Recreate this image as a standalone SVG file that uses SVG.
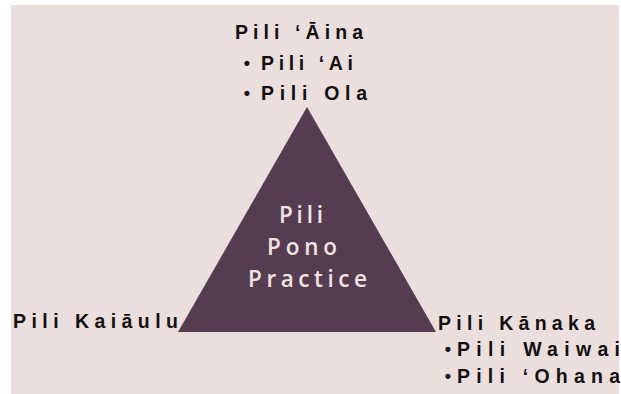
<svg xmlns="http://www.w3.org/2000/svg" width="621" height="394" viewBox="0 0 621 394">
<style>
.lbl{font-family:"Liberation Sans","DejaVu Sans",sans-serif;font-weight:bold;font-size:19.5px;fill:#141012}
.bul{font-family:"Liberation Sans","DejaVu Sans",sans-serif;font-weight:bold;font-size:18px;fill:#141012;text-anchor:middle}
.ctr{font-family:"Open Sans","Liberation Sans",sans-serif;font-weight:600;font-size:22.5px;fill:#efe4e2}
</style>
<rect x="0" y="0" width="621" height="394" fill="#ffffff"/>
<rect x="11" y="5" width="608" height="389" fill="#ebdfde"/>
<g id="pyramid">
<polygon points="307,107 178,332 436,332" fill="#553c50"/>
<text class="ctr" x="279" y="223" textLength="44" lengthAdjust="spacing">Pili</text>
<text class="ctr" x="267" y="255" textLength="70" lengthAdjust="spacing">Pono</text>
<text class="ctr" x="248" y="287" textLength="119" lengthAdjust="spacing">Practice</text>
</g>
<g id="top">
<text class="lbl" x="235" y="39" textLength="128" lengthAdjust="spacing">Pili ʻĀina</text>
<text class="bul" x="247" y="69">•</text>
<text class="lbl" x="261" y="70" textLength="92" lengthAdjust="spacing">Pili ʻAi</text>
<text class="bul" x="247" y="99">•</text>
<text class="lbl" x="261" y="100" textLength="106" lengthAdjust="spacing">Pili Ola</text>
</g>
<g id="left">
<text class="lbl" x="13" y="328" textLength="165" lengthAdjust="spacing">Pili Kaiāulu</text>
</g>
<g id="right">
<text class="lbl" x="438" y="330" textLength="157" lengthAdjust="spacing">Pili Kānaka</text>
<text class="bul" x="448" y="355">•</text>
<text class="lbl" x="457" y="356" textLength="163" lengthAdjust="spacing">Pili Waiwai</text>
<text class="bul" x="448" y="382">•</text>
<text class="lbl" x="457" y="383" textLength="163" lengthAdjust="spacing">Pili ʻOhana</text>
</g>
</svg>
